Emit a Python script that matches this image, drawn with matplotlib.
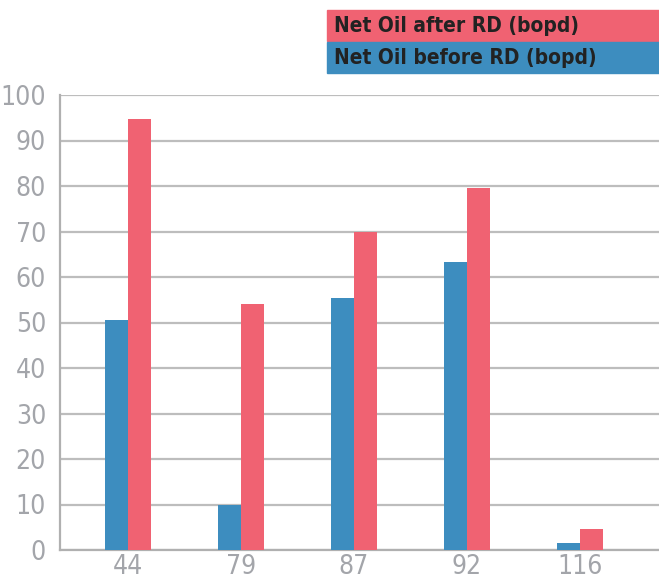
import numpy as np
import matplotlib.pyplot as plt
from matplotlib.patches import Rectangle

categories = ['44', '79', '87', '92', '116']
before_rd = [50.5, 10, 55.3, 63.2, 1.5]
after_rd = [94.7, 54, 70, 79.6, 4.7]
series_names = ['Net Oil after RD (bopd)', 'Net Oil before RD (bopd)']

blue = '#3d8dbf'
pink = '#f06272'
gray = '#a3a5aa'

plt.rcParams['font.family'] = ['DejaVu Sans']
plt.rcParams['font.stretch'] = 'condensed'

fig = plt.figure(figsize=(6.59, 5.83), dpi=100)
ax = fig.add_axes([60 / 659, 33 / 583, 599 / 659, 455 / 583])

x = np.arange(len(categories))
w = 0.205
ax.bar(x - w / 2, before_rd, width=w, color=blue, zorder=3)
ax.bar(x + w / 2, after_rd, width=w, color=pink, zorder=3)

ax.set_ylim(0, 100)
ax.set_xlim(-0.6, 4.7)
ax.set_yticks(range(0, 101, 10))
ax.set_xticks(x)
ax.set_xticklabels(categories)
ax.yaxis.grid(True, color='#bdbdbd', linewidth=1.6, zorder=0)
ax.tick_params(length=0, labelsize=19, labelcolor=gray)
ax.tick_params(axis='y', pad=10)
ax.tick_params(axis='x', pad=3)
for s in ['top', 'right']:
    ax.spines[s].set_visible(False)
for s in ['left', 'bottom']:
    ax.spines[s].set_color('#b0b0b0')
    ax.spines[s].set_linewidth(1.6)

# legend boxes at top right
for i, (name, col) in enumerate(zip(series_names, [pink, blue])):
    y0 = 1 - (41 + 32 * i) / 583
    fig.patches.append(Rectangle((327 / 659, y0), 332 / 659, 31.5 / 583,
                                 transform=fig.transFigure, color=col))
    fig.text(334 / 659, y0 + 15.5 / 583, name, fontsize=15, fontweight='bold',
             color='#222222', va='center', ha='left')

fig.savefig('out.png', dpi=100)
